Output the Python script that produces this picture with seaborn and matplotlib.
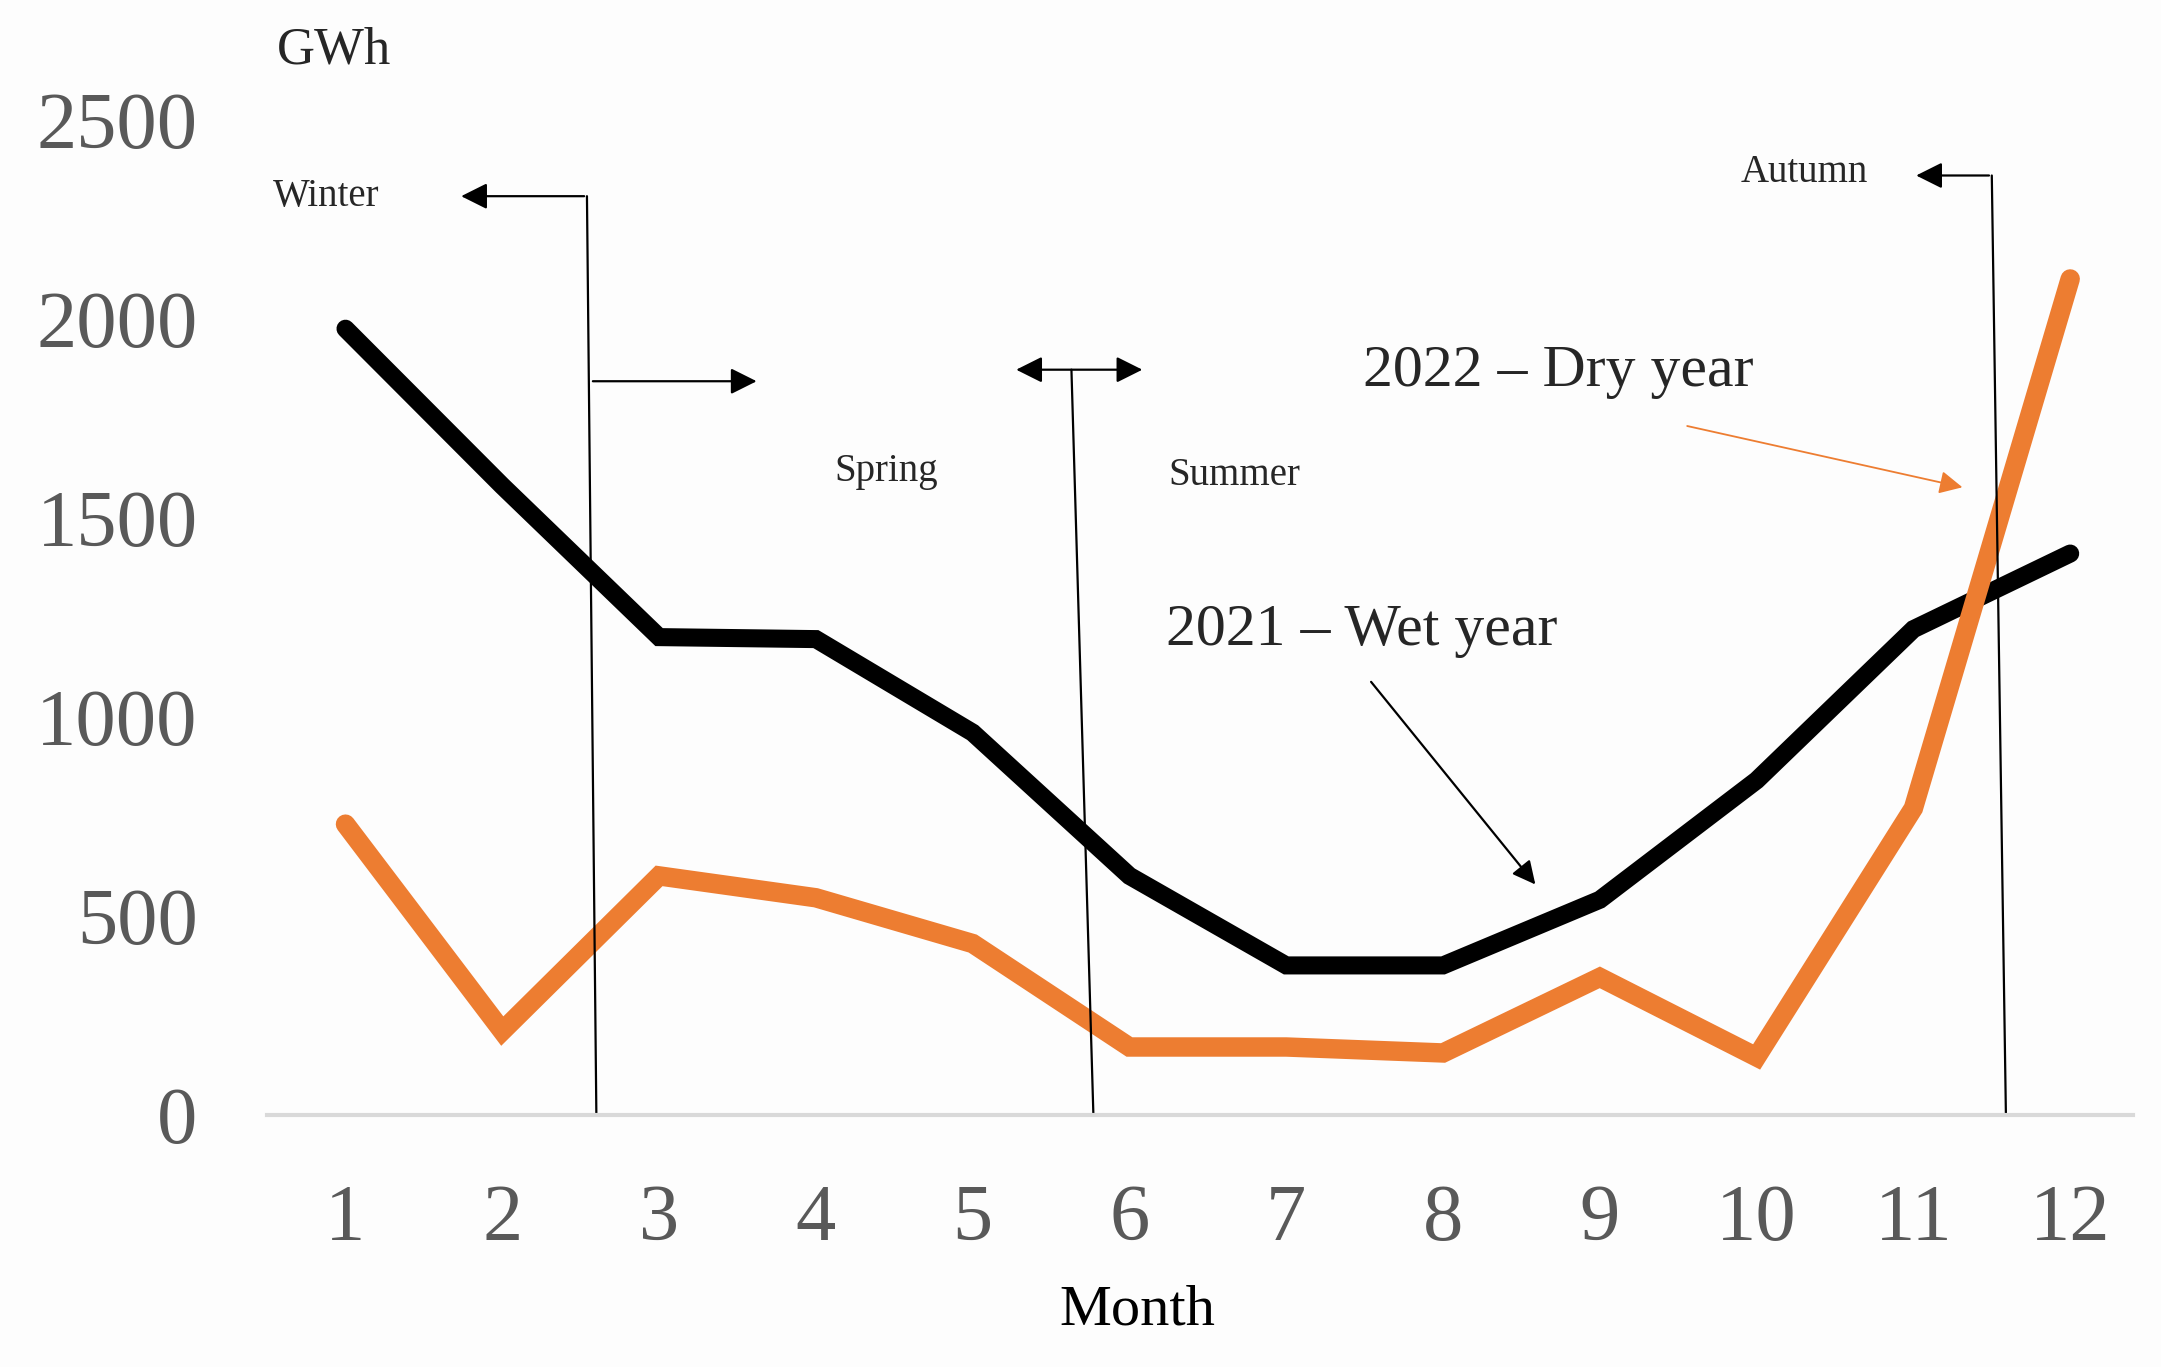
import matplotlib
matplotlib.use("Agg")
import matplotlib.pyplot as plt
import pandas as pd
import seaborn as sns

months = list(range(1, 13))
wet_2021 = [1975, 1580, 1200, 1195, 960, 600, 375, 375, 540, 840, 1220, 1410]
dry_2022 = [730, 210, 600, 545, 430, 170, 170, 155, 345, 145, 770, 2100]
y_ticks = [0, 500, 1000, 1500, 2000, 2500]

df = pd.DataFrame({
    "Month": months * 2,
    "GWh": wet_2021 + dry_2022,
    "Year": ["2021"] * 12 + ["2022"] * 12,
})

sns.set_theme(style="white")
plt.rcParams["font.family"] = ["Liberation Serif", "DejaVu Serif"]

fig = plt.figure(figsize=(21.61, 13.67), dpi=100, facecolor="#fdfdfd")
ax = fig.add_axes([0.1236, 0.1846, 0.8634, 0.786])
ax.set_facecolor("#fdfdfd")

for year, color, lw in [("2021", "black", 13), ("2022", "#ED7D31", 14)]:
    sub = df[df["Year"] == year]
    sns.lineplot(data=sub, x="Month", y="GWh", color=color, linewidth=lw,
                 ax=ax, legend=False, solid_capstyle="round",
                 solid_joinstyle="miter")

ax.set_xlim(0.5, 12.4)
ax.set_ylim(0, 2700)
ax.set_xticks(months)
ax.set_yticks(y_ticks)
ax.tick_params(axis="both", length=0, labelsize=58, labelcolor="#595959", pad=50)
for s in ["top", "right", "left"]:
    ax.spines[s].set_visible(False)
ax.spines["bottom"].set_color("#d9d9d9")
ax.spines["bottom"].set_linewidth(3)
ax.set_xlabel("Month", fontsize=42, color="black", labelpad=20)
ax.xaxis.label.set_x((6.05 - 0.5) / 11.9)
ax.set_ylabel("")

ax.text(0.56, 2675, "GWh", fontsize=38, va="center", ha="left", clip_on=False)

# season markers
line_kw = dict(color="black", lw=1.6)
head = dict(arrowstyle="-|>", color="black", lw=1.6, mutation_scale=40)

ax.plot([2.54, 2.60], [2308, 0], **line_kw)
ax.annotate("", xy=(1.72, 2308), xytext=(2.54, 2308), arrowprops=head)
ax.annotate("", xy=(3.64, 1843), xytext=(2.56, 1843), arrowprops=head)

ax.plot([5.63, 5.77], [1872, 0], **line_kw)
ax.annotate("", xy=(5.26, 1872), xytext=(6.10, 1872),
            arrowprops=dict(arrowstyle="<|-|>", color="black", lw=1.6, mutation_scale=40))

ax.plot([11.50, 11.59], [2360, 0], **line_kw)
ax.annotate("", xy=(11.0, 2360), xytext=(11.50, 2360), arrowprops=head)

small = 28
ax.text(0.54, 2308, "Winter", fontsize=small, va="center", ha="left")
ax.text(4.12, 1617, "Spring", fontsize=small, va="center", ha="left")
ax.text(6.25, 1606, "Summer", fontsize=small, va="center", ha="left")
ax.text(9.90, 2367, "Autumn", fontsize=small, va="center", ha="left")

ax.text(7.49, 1865, "2022 \u2013 Dry year", fontsize=43, va="center", ha="left")
ax.annotate("", xy=(11.33, 1575), xytext=(9.54, 1732),
            arrowprops=dict(arrowstyle="-|>", color="#ED7D31", lw=1.3, mutation_scale=35))

ax.text(6.23, 1215, "2021 \u2013 Wet year", fontsize=43, va="center", ha="left")
ax.annotate("", xy=(8.60, 573), xytext=(7.53, 1093),
            arrowprops=dict(arrowstyle="-|>", color="black", lw=1.6, mutation_scale=35))

fig.savefig("out.png", dpi=100, facecolor=fig.get_facecolor())
